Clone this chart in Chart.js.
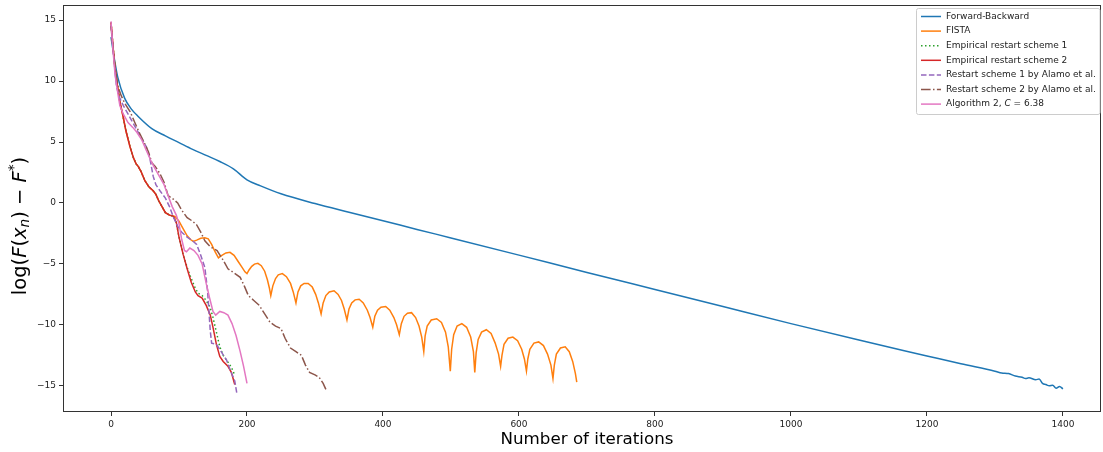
<!DOCTYPE html>
<html>
<head>
<meta charset="utf-8">
<script src="https://cdn.jsdelivr.net/npm/chart.js@4.4.1/dist/chart.umd.min.js"></script>
<style>
  html, body { margin: 0; padding: 0; background: #fff; }
  #wrap { width: 1103px; height: 452px; }
</style>
</head>
<body>
<div id="wrap"><canvas id="chart"></canvas></div>
<script>
// Convergence plot: log(F(x_n) - F*) against iteration count for several methods.

// Forward-Backward
const fbIter = [0, 5, 10, 20, 30, 40, 60, 80, 100, 120, 140, 160, 180, 200, 220, 250, 300, 350, 400, 450, 500, 600, 700, 800, 900, 1000, 1100, 1200, 1250, 1300, 1310, 1320, 1330, 1340, 1345, 1350, 1360, 1365, 1370, 1375, 1380, 1385, 1390, 1395, 1400];
const fbVal = [13.6, 11.8, 10.3, 8.6, 7.7, 7.1, 6.1, 5.5, 4.95, 4.4, 3.9, 3.4, 2.8, 1.9, 1.4, 0.75, -0.05, -0.76, -1.46, -2.17, -2.87, -4.28, -5.7, -7.1, -8.5, -9.9, -11.25, -12.55, -13.2, -13.8, -13.95, -14.0, -14.2, -14.3, -14.4, -14.35, -14.5, -14.45, -14.8, -14.9, -15.0, -14.95, -15.2, -15.05, -15.25];

// FISTA
const fistaIter = [0, 3, 6, 9, 13, 17, 22, 28, 33, 37, 40, 44, 50, 56, 62, 66, 70, 75, 80, 86,
  94, 100, 106, 112, 117, 121, 126, 132, 138, 143, 148, 153, 158, 163, 169, 175, 181, 187, 193, 197, 200,
  203, 207, 211, 216, 221, 226, 230, 233, 235,
  238, 242, 246, 252, 258, 264, 268, 272,
  275, 279, 284, 290, 296, 301, 305, 309,
  312, 316, 321, 328, 334, 339, 343, 347,
  350, 354, 359, 365, 371, 377, 381, 385,
  388, 392, 397, 404, 410, 416, 420, 424,
  427, 431, 436, 442, 448, 453, 457, 460,
  462, 465, 471, 479, 486, 492, 496, 499,
  501, 504, 509, 516, 523, 529, 533, 535,
  537, 540, 545, 552, 559, 565, 570, 573,
  575, 578, 584, 591, 598, 604, 608, 611,
  613, 616, 622, 629, 636, 642, 647, 650,
  652, 655, 661, 668, 674, 679, 683, 685];
const fistaVal = [14.8, 12.8, 11.0, 9.8, 8.3, 7.3, 5.9, 4.6, 3.7, 3.2, 3.0, 2.6, 1.8, 1.3, 1.0, 0.7, 0.2, -0.3, -0.8, -1.0,
  -1.1, -1.5, -2.1, -2.7, -3.0, -3.15, -3.05, -2.9, -2.85, -2.95, -3.4, -4.0, -4.5, -4.3, -4.1, -4.05, -4.3, -4.8, -5.3, -5.65, -5.8,
  -5.5, -5.2, -5.02, -4.95, -5.15, -5.6, -6.3, -7.0, -7.6,
  -6.8, -6.2, -5.9, -5.8, -6.05, -6.6, -7.3, -8.2,
  -7.3, -6.8, -6.6, -6.6, -6.9, -7.5, -8.2, -9.1,
  -8.2, -7.6, -7.3, -7.2, -7.5, -8.0, -8.7, -9.6,
  -8.7, -8.2, -7.95, -7.9, -8.2, -8.8, -9.4, -10.2,
  -9.3, -8.8, -8.55, -8.5, -8.8, -9.4, -10.0, -10.8,
  -9.9, -9.3, -9.05, -9.0, -9.4, -10.1, -11.0, -12.2,
  -10.9, -10.1, -9.6, -9.5, -9.8, -10.6, -11.8, -13.8,
  -12.0, -10.8, -10.1, -9.9, -10.2, -11.0, -12.2, -13.9,
  -12.3, -11.2, -10.6, -10.4, -10.7, -11.5, -12.4, -13.4,
  -12.5, -11.6, -11.1, -11.0, -11.3, -12.0, -12.8, -13.8,
  -12.8, -12.0, -11.5, -11.4, -11.7, -12.4, -13.3, -14.4,
  -13.3, -12.4, -11.9, -11.8, -12.2, -13.0, -14.0, -14.7];

// Empirical restart scheme 1
const emp1Iter = [0, 3, 6, 9, 13, 17, 22, 28, 33, 37, 40, 44, 50, 56, 62, 66, 70, 75, 80, 86, 92, 96, 100, 106, 112, 118, 124, 128, 134, 140, 146, 150, 155, 160, 165, 170, 175, 178, 181];
const emp1Val = [14.8, 12.8, 11.0, 9.8, 8.3, 7.3, 5.9, 4.6, 3.7, 3.2, 3.0, 2.6, 1.8, 1.3, 1.0, 0.7, 0.2, -0.3, -0.8, -1.0, -1.1, -1.6, -2.8, -4.2, -5.3, -6.2, -7.0, -7.4, -7.6, -8.0, -8.6, -9.4, -10.6, -11.8, -12.5, -12.9, -13.3, -13.6, -14.0];

// Empirical restart scheme 2
const emp2Iter = [0, 3, 6, 9, 13, 17, 22, 28, 33, 37, 40, 44, 50, 56, 62, 66, 70, 75, 80, 86, 92, 96, 100, 106, 112, 118, 124, 128, 134, 140, 146, 150, 155, 160, 165, 172, 177, 182];
const emp2Val = [14.8, 12.8, 11.0, 9.8, 8.3, 7.3, 5.9, 4.6, 3.7, 3.2, 3.0, 2.6, 1.8, 1.3, 1.0, 0.7, 0.2, -0.3, -0.8, -1.0, -1.1, -1.6, -2.8, -4.2, -5.4, -6.5, -7.3, -7.6, -7.8, -8.4, -9.2, -10.2, -11.6, -12.6, -13.0, -13.4, -13.9, -14.9];

// Restart scheme 1 by Alamo et al.
const alamo1Iter = [0, 4, 8, 12, 18, 25, 30, 38, 45, 52, 57, 62, 66, 72, 80, 86, 92, 98, 104, 112, 120, 126, 132, 138, 142, 146, 148, 155, 162, 170, 176, 182, 185];
const alamo1Val = [14.6, 12.0, 9.6, 8.7, 8.0, 7.3, 6.8, 6.0, 5.3, 4.6, 3.7, 2.2, 1.5, 1.0, 0.4, -0.3, -1.2, -1.9, -2.4, -2.8, -3.1, -3.4, -4.3, -5.3, -7.2, -10.5, -11.5, -11.6, -12.2, -12.9, -13.8, -14.6, -15.6];

// Restart scheme 2 by Alamo et al.
const alamo2Iter = [0, 5, 10, 15, 20, 28, 35, 43, 50, 55, 60, 65, 72, 78, 84, 92, 98, 104, 112, 120, 126, 132, 138, 146, 156, 165, 172, 180, 190, 196, 202, 210, 218, 226, 234, 242, 250, 256, 264, 272, 280, 286, 292, 300, 306, 312, 316];
const alamo2Val = [14.5, 11.5, 9.6, 8.8, 8.2, 7.5, 6.6, 5.6, 4.8, 4.2, 3.3, 3.0, 2.4, 1.7, 0.6, 0.3, 0.0, -0.6, -1.2, -1.5, -1.8, -2.4, -3.1, -3.6, -3.9, -4.7, -5.4, -5.7, -6.1, -6.8, -7.6, -8.0, -8.4, -9.1, -9.8, -10.1, -10.3, -11.1, -11.9, -12.2, -12.5, -13.3, -13.9, -14.1, -14.3, -14.8, -15.3];

// Algorithm 2, C = 6.38
const algIter = [0, 3, 6, 10, 13, 18, 25, 32, 38, 45, 52, 60, 66, 72, 78, 84, 90, 96, 100, 104, 108, 111, 116, 122, 128, 134, 140, 145, 150, 154, 160, 166, 172, 178, 184, 190, 195, 200];
const algVal = [14.9, 12.5, 10.5, 9.0, 8.0, 7.3, 6.6, 6.2, 5.8, 5.2, 4.3, 3.3, 2.7, 2.1, 1.5, 0.6, -0.3, -1.0, -1.7, -3.0, -3.9, -4.0, -3.7, -3.9, -4.3, -5.0, -6.6, -7.8, -8.9, -9.2, -8.9, -9.0, -9.2, -9.9, -10.9, -12.2, -13.4, -14.8];

const seriesLabels = ["Forward-Backward", "FISTA", "Empirical restart scheme 1", "Empirical restart scheme 2",
  "Restart scheme 1 by Alamo et al.", "Restart scheme 2 by Alamo et al.", "Algorithm 2, C = 6.38"];

const xTicks = [0, 200, 400, 600, 800, 1000, 1200, 1400];
const yTicks = [-15, -10, -5, 0, 5, 10, 15];

// matplotlib tab10 colours + line dashes
const colors = ["#1f77b4", "#ff7f0e", "#2ca02c", "#d62728", "#9467bd", "#8c564b", "#e377c2"];
const dashes = [[], [], [1.5, 2.5], [], [5.5, 2.4], [9.6, 2.4, 1.5, 2.4], []];

function pairs(xs, ys) {
  return xs.map(function(x, i) { return { x: x, y: ys[i] }; });
}

const allData = [
  pairs(fbIter, fbVal),
  pairs(fistaIter, fistaVal),
  pairs(emp1Iter, emp1Val),
  pairs(emp2Iter, emp2Val),
  pairs(alamo1Iter, alamo1Val),
  pairs(alamo2Iter, alamo2Val),
  pairs(algIter, algVal)
];

const datasets = allData.map(function(d, i) {
  return {
    label: seriesLabels[i],
    data: d,
    borderColor: colors[i],
    backgroundColor: colors[i],
    borderWidth: 1.5,
    borderDash: dashes[i],
    pointRadius: 0,
    fill: false,
    tension: 0,
    cubicInterpolationMode: i === 0 ? "monotone" : "default",
    order: 6 - i // later series on top, like matplotlib
  };
});

const FONT = "DejaVu Sans";
const TICK_SIZE = 9;
const LEGEND_SIZE = 9;

// draws a string made of pieces with different styles (italic / sub / sup), centred on cx
function drawRich(ctx, parts, cx, cy, size) {
  let total = 0;
  parts.forEach(function(p) {
    const s = p.small ? size * 0.7 : size;
    ctx.font = (p.it ? "italic " : "") + s + "px " + FONT;
    p.w = ctx.measureText(p.t).width;
    total += p.w;
  });
  let x = cx - total / 2;
  ctx.textBaseline = "middle";
  ctx.textAlign = "left";
  parts.forEach(function(p) {
    const s = p.small ? size * 0.7 : size;
    ctx.font = (p.it ? "italic " : "") + s + "px " + FONT;
    ctx.fillText(p.t, x, cy + (p.dy || 0) * size);
    x += p.w;
  });
}

function drawRichLeft(ctx, parts, x, cy, size) {
  ctx.textBaseline = "middle";
  ctx.textAlign = "left";
  parts.forEach(function(p) {
    ctx.font = (p.it ? "italic " : "") + size + "px " + FONT;
    ctx.fillText(p.t, x, cy);
    x += ctx.measureText(p.t).width;
  });
}

const decorations = {
  id: "decorations",
  afterDraw: function(chart) {
    const ctx = chart.ctx;
    const a = chart.chartArea;
    ctx.save();

    // full frame
    ctx.strokeStyle = "#333";
    ctx.lineWidth = 1;
    ctx.setLineDash([]);
    ctx.strokeRect(Math.round(a.left) + 0.5, Math.round(a.top) + 0.5,
      Math.round(a.right - a.left) - 1, Math.round(a.bottom - a.top) - 1);

    // axis titles
    ctx.fillStyle = "#000";
    ctx.font = "16.7px " + FONT;
    ctx.textAlign = "center";
    ctx.textBaseline = "middle";
    ctx.fillText("Number of iterations", 587, 440);

    ctx.save();
    ctx.translate(21, 226);
    ctx.rotate(-Math.PI / 2);
    drawRich(ctx, [
      { t: "log(" }, { t: "F", it: true }, { t: "(" }, { t: "x", it: true },
      { t: "n", it: true, small: true, dy: 0.25 }, { t: ")" }, { t: " \u2212 " },
      { t: "F", it: true }, { t: "*", small: true, dy: -0.35 }, { t: ")" }
    ], 0, 0, 19.5);
    ctx.restore();

    // legend box
    const bx = 916.5, by = 8.5, bw = 183.5, bh = 106;
    ctx.fillStyle = "rgba(255,255,255,0.8)";
    ctx.strokeStyle = "#cccccc";
    ctx.lineWidth = 1;
    ctx.beginPath();
    ctx.roundRect(bx, by, bw, bh, 2);
    ctx.fill();
    ctx.stroke();

    const rowY0 = 16.5, rowStep = 14.6;
    datasets.forEach(function(ds, i) {
      const y = rowY0 + i * rowStep;
      ctx.strokeStyle = ds.borderColor;
      ctx.lineWidth = 1.5;
      ctx.setLineDash(ds.borderDash);
      ctx.beginPath();
      ctx.moveTo(921, y);
      ctx.lineTo(941, y);
      ctx.stroke();
      ctx.setLineDash([]);
      ctx.fillStyle = "#222";
      if (i === 6) {
        drawRichLeft(ctx, [{ t: "Algorithm 2, " }, { t: "C", it: true }, { t: " = 6.38" }], 946, y, LEGEND_SIZE);
      } else {
        ctx.font = LEGEND_SIZE + "px " + FONT;
        ctx.textAlign = "left";
        ctx.textBaseline = "middle";
        ctx.fillText(ds.label, 946, y);
      }
    });
    ctx.restore();
  }
};

new Chart(document.getElementById("chart"), {
  type: "line",
  data: { datasets: datasets },
  options: {
    responsive: true,
    maintainAspectRatio: false,
    animation: false,
    devicePixelRatio: 1,
    layout: { padding: { top: 5, right: 2, left: 0, bottom: 0 } },
    plugins: {
      legend: { display: false },
      tooltip: { enabled: false }
    },
    scales: {
      x: {
        type: "linear",
        min: -70.6,
        max: 1456,
        afterFit: function(s) { s.height = 40; s.paddingLeft = 0; s.paddingRight = 0; },
        afterBuildTicks: function(s) { s.ticks = xTicks.map(function(v) { return { value: v }; }); },
        grid: { display: true, drawOnChartArea: false, tickLength: 4, tickColor: "#333" },
        border: { display: false },
        ticks: {
          color: "#222", padding: 3, maxRotation: 0,
          font: { family: FONT, size: TICK_SIZE },
          callback: function(v) { return String(v); }
        }
      },
      y: {
        type: "linear",
        min: -17.15,
        max: 16.24,
        afterFit: function(s) { s.width = 63; s.paddingTop = 0; s.paddingBottom = 0; },
        afterBuildTicks: function(s) { s.ticks = yTicks.map(function(v) { return { value: v }; }); },
        grid: { display: true, drawOnChartArea: false, tickLength: 4, tickColor: "#333" },
        border: { display: false },
        ticks: {
          color: "#222",
          padding: 3,
          font: { family: FONT, size: TICK_SIZE },
          callback: function(v) { return String(v).replace("-", "\u2212"); }
        }
      }
    }
  },
  plugins: [decorations]
});
</script>
</body>
</html>
